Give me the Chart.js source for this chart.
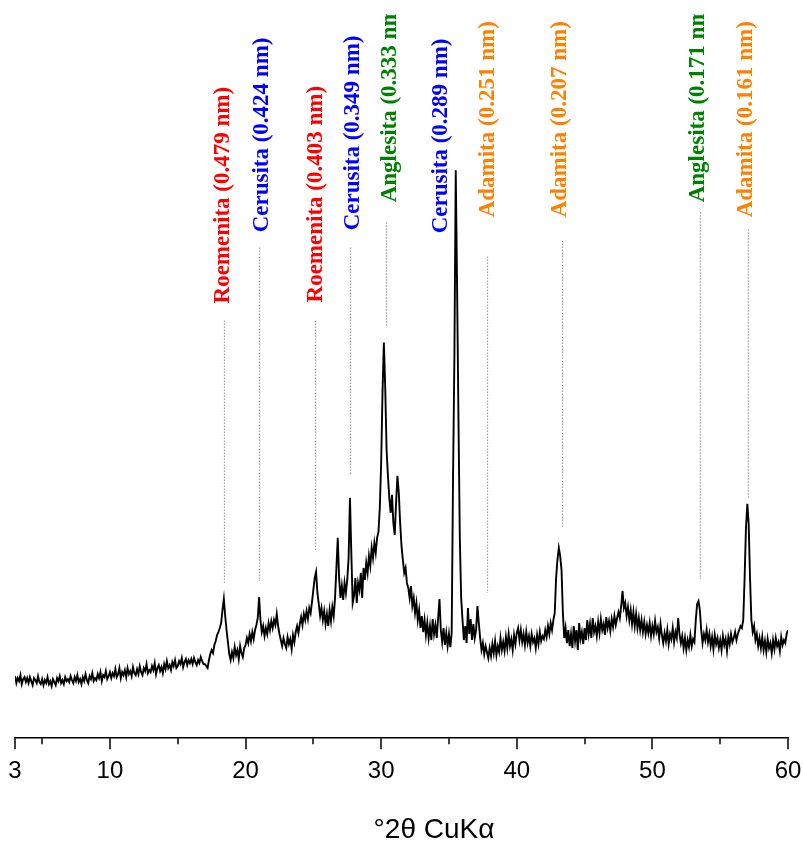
<!DOCTYPE html>
<html><head><meta charset="utf-8">
<script src="https://cdn.jsdelivr.net/npm/chart.js@4/dist/chart.umd.min.js"></script>
<style>html,body{margin:0;padding:0;background:#fff;}#wrap{width:803px;height:841px;}</style>
</head><body><div id="wrap"><canvas id="c" width="803" height="841"></canvas></div>
<script>
// XRD pattern, 2θ from 3.0° to 60.0°, step 0.1° (intensity, arbitrary units)
const thetaStart = 3.0;
const thetaStep = 0.1;
const intensity = [
62,55,60,57,63,54,59,61,56,60,
55,61,57,53,60,58,55,62,56,54,
59,53,58,55,61,54,57,52,59,56,
53,60,57,62,55,58,54,61,57,59,
56,62,58,55,61,57,63,56,59,54,
61,57,64,58,55,62,59,65,57,60,
58,64,60,66,57,63,61,67,59,62,
66,60,65,62,69,61,64,70,60,66,
63,68,61,70,64,67,62,71,65,63,
69,64,72,66,63,70,67,74,65,68,
66,72,68,75,64,70,73,67,71,65,
74,69,77,70,73,68,76,72,78,70,
72,77,74,80,71,76,79,73,78,75,
79,74,80,76,73,78,75,81,77,74,
74,72,70,78,84,88,85,93,97,103,
106,110,115,128,139,122,108,96,84,78,
86,80,91,83,88,79,92,85,81,90,
93,100,95,104,97,106,99,108,113,120,
141,118,106,112,102,110,104,115,108,117,
110,118,113,124,112,104,98,92,100,94,
90,101,94,99,89,103,96,106,112,105,
114,121,113,124,118,127,119,130,125,136,
148,160,166,145,134,122,130,118,127,114,
124,112,128,117,131,122,140,170,200,160,
140,152,138,155,145,158,180,240,185,135,
142,160,135,155,148,165,140,170,158,175,
165,182,172,190,180,195,185,200,206,230,
275,345,395,350,288,262,240,225,243,215,
203,235,262,245,215,192,178,165,170,155,
150,140,152,132,140,125,135,118,128,110,
122,106,118,103,115,100,112,98,119,104,
113,100,120,139,108,96,110,93,105,92,
104,91,105,260,380,567,450,320,200,140,
118,98,112,95,130,104,119,98,114,100,
108,132,115,100,88,95,84,92,86,80,
90,82,94,85,97,83,92,86,100,88,
96,87,101,90,104,92,99,88,103,94,
105,110,98,108,96,104,93,106,95,102,
92,104,96,100,90,103,94,106,97,102,
99,108,101,112,104,115,108,118,125,160,
178,190,182,168,125,100,110,95,108,92,
104,90,112,97,108,88,115,99,106,94,
110,98,118,104,114,100,120,106,112,102,
116,105,119,108,114,103,121,110,117,107,
119,111,122,113,120,126,120,132,147,130,
135,122,131,118,128,114,126,112,124,110,
120,108,118,106,116,104,113,105,115,102,
112,104,117,106,111,100,114,103,95,105,
97,108,94,104,99,110,96,106,100,120,
104,95,102,90,100,88,98,91,103,92,
99,96,118,134,137,128,108,95,104,98,
108,96,104,92,101,89,103,94,100,90,
98,88,102,93,99,87,101,94,104,96,
100,106,98,104,108,112,110,118,160,210,
234,214,160,118,106,112,98,104,92,100,
90,101,88,97,86,99,90,95,85,98,
89,100,92,96,87,101,93,98,95,104,
108
];

// Axis ticks
const majorTicks = [3, 10, 20, 30, 40, 50, 60];
const minorTicks = [5, 15, 25, 35, 45, 55];
const xTitle = '°2θ CuKα';

// Phase identifications
const phaseNames  = ['Roemenita','Cerusita','Roemenita','Cerusita','Anglesita','Cerusita','Adamita','Adamita','Anglesita','Adamita'];
const dSpacings   = ['0.479','0.424','0.403','0.349','0.333','0.289','0.251','0.207','0.171','0.161'];
const labelTheta  = [18.27, 21.13, 25.12, 27.85, 30.57, 34.34, 37.80, 43.11, 53.29, 56.83];
const lineTheta   = [18.41, 20.99, 25.12, 27.70, 30.35, null, 37.80, 43.33, 53.51, 57.05];
const labelBase   = [434, 505, 435, 507, 535, 504, 520, 520, 535, 520];
const lineTop     = [417, 490, 417, 490, 515, null, 481, 497, 525, 508];
const lineBottom  = [154, 157, 187, 262, 410, null, 145, 210, 159, 239];

const phaseColors = { Roemenita: '#ff0000', Cerusita: '#0000ff', Anglesita: '#008000', Adamita: '#ff8000' };

const points = intensity.map((v, i) => ({ x: +(thetaStart + i * thetaStep).toFixed(1), y: v }));

const annotatePlugin = {
  id: 'phaseLabels',
  beforeDatasetsDraw(chart) {
    const { ctx, chartArea, scales: { x, y } } = chart;
    ctx.save();
    ctx.beginPath();
    ctx.rect(chartArea.left, chartArea.top, chartArea.right - chartArea.left, chartArea.bottom - chartArea.top);
    ctx.clip();
    ctx.strokeStyle = '#a6a6a6';
    ctx.lineWidth = 1.3;
    ctx.setLineDash([1.5, 1.5]);
    lineTheta.forEach((t, i) => {
      if (t === null) return;
      const px = Math.round(x.getPixelForValue(t)) + 0.5;
      ctx.beginPath();
      ctx.moveTo(px, y.getPixelForValue(lineTop[i]));
      ctx.lineTo(px, y.getPixelForValue(lineBottom[i]));
      ctx.stroke();
    });
    ctx.setLineDash([]);
    ctx.font = 'bold 23px "Liberation Serif", "Times New Roman", serif';
    ctx.textAlign = 'left';
    ctx.textBaseline = 'middle';
    labelTheta.forEach((t, i) => {
      ctx.save();
      ctx.translate(x.getPixelForValue(t), y.getPixelForValue(labelBase[i]));
      ctx.rotate(-Math.PI / 2);
      ctx.fillStyle = phaseColors[phaseNames[i]];
      ctx.fillText(phaseNames[i] + ' (' + dSpacings[i] + ' nm)', 0, 1);
      ctx.restore();
    });
    ctx.restore();
  },
  afterDraw(chart) {
    const { ctx, scales: { x } } = chart;
    ctx.save();
    ctx.strokeStyle = '#000';
    ctx.lineWidth = 1.5;
    const y0 = x.top;
    majorTicks.forEach(v => {
      const px = Math.round(x.getPixelForValue(v));
      ctx.beginPath(); ctx.moveTo(px, y0); ctx.lineTo(px, y0 + 11); ctx.stroke();
    });
    minorTicks.forEach(v => {
      const px = Math.round(x.getPixelForValue(v));
      ctx.beginPath(); ctx.moveTo(px, y0); ctx.lineTo(px, y0 + 6); ctx.stroke();
    });
    ctx.fillStyle = '#000';
    ctx.font = '28px "Liberation Sans", Arial, sans-serif';
    ctx.textAlign = 'center';
    ctx.textBaseline = 'alphabetic';
    ctx.fillText(xTitle, 434, 838);
    ctx.restore();
  }
};

new Chart(document.getElementById('c'), {
  type: 'line',
  data: {
    datasets: [{
      data: points,
      borderColor: '#000',
      borderWidth: 1.9,
      pointRadius: 0,
      tension: 0,
      fill: false
    }]
  },
  options: {
    responsive: false,
    animation: false,
    layout: { padding: { left: 15, right: 15, top: 14, bottom: 47 } },
    plugins: { legend: { display: false }, tooltip: { enabled: false } },
    scales: {
      x: {
        type: 'linear',
        min: 3,
        max: 60,
        afterBuildTicks: s => { s.ticks = majorTicks.concat(minorTicks).sort((a, b) => a - b).map(v => ({ value: v })); },
        afterFit: s => { s.paddingLeft = 0; s.paddingRight = 0; },
        ticks: {
          autoSkip: false,
          maxRotation: 0,
          padding: 8,
          color: '#000',
          font: { family: '"Liberation Sans", Arial, sans-serif', size: 24 },
          callback: v => majorTicks.includes(v) ? String(v) : ''
        },
        grid: { display: true, drawOnChartArea: false, drawTicks: true, tickLength: 11, tickColor: 'rgba(0,0,0,0)' },
        border: { display: true, color: '#000', width: 1.5 }
      },
      y: { display: false, min: 0, max: 723 }
    }
  },
  plugins: [annotatePlugin]
});
</script>
</body></html>
